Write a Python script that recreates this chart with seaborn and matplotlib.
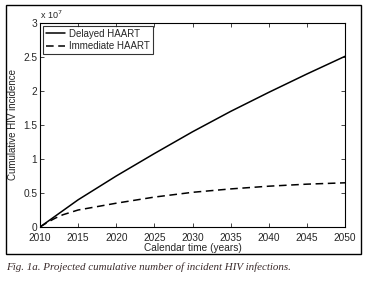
import pandas as pd
import matplotlib
matplotlib.use('Agg')
import matplotlib.pyplot as plt
import seaborn as sns
from matplotlib.patches import Rectangle

# cumulative incident HIV infections, in units of 1e7
years = [2010, 2011, 2012, 2013, 2015, 2020, 2025, 2030, 2035, 2040, 2045, 2050]
delayed = [0.0, 0.08, 0.16, 0.24, 0.40, 0.75, 1.08, 1.40, 1.70, 1.98, 2.25, 2.51]
immediate = [0.0, 0.07, 0.13, 0.18, 0.25, 0.35, 0.44, 0.51, 0.56, 0.60, 0.63, 0.65]
labels = ['Delayed HAART', 'Immediate HAART']

df = pd.concat([
    pd.DataFrame({'year': years, 'value': delayed, 'scenario': labels[0]}),
    pd.DataFrame({'year': years, 'value': immediate, 'scenario': labels[1]}),
])

sns.set_style('ticks')
plt.rcParams['font.family'] = ['Liberation Sans', 'DejaVu Sans']

fig = plt.figure(figsize=(3.69, 2.84), dpi=100)
ax = fig.add_axes([40 / 369, 57 / 284, 305 / 369, 204 / 284])

sns.lineplot(data=df, x='year', y='value', style='scenario', color='black',
             dashes={labels[0]: '', labels[1]: (5, 3)}, linewidth=1.1, ax=ax)

ax.set_xlim(2010, 2050)
ax.set_ylim(0, 3)
ax.set_xticks(range(2010, 2051, 5))
ax.set_yticks([0, 0.5, 1, 1.5, 2, 2.5, 3])
ax.set_yticklabels(['0', '0.5', '1', '1.5', '2', '2.5', '3'])
ax.tick_params(direction='in', top=True, right=True, labelsize=7.3, length=3, width=0.6, pad=2)
ax.tick_params(axis='x', pad=4.5)
for s in ax.spines.values():
    s.set_linewidth(0.8)
    s.set_color('black')
ax.set_xlabel('Calendar time (years)', fontsize=7.3, labelpad=0)
ax.set_ylabel('Cumulative HIV incidence', fontsize=7, labelpad=4)
ax.text(0.0, 1.01, 'x 10$^7$', transform=ax.transAxes, fontsize=6.5, ha='left', va='bottom')

leg = ax.legend(loc='upper left', fontsize=7, frameon=True, fancybox=False,
                handlelength=2.0, borderaxespad=0.3, borderpad=0.3, labelspacing=0.25,
                handletextpad=0.4)
leg.get_frame().set_edgecolor('black')
leg.get_frame().set_linewidth(0.8)

fig.patches.append(Rectangle((6 / 369, 30 / 284), 355 / 369, 249 / 284, transform=fig.transFigure,
                             fill=False, edgecolor='black', linewidth=1.0))
fig.text(6 / 369, 14 / 284, 'Fig. 1a. Projected cumulative number of incident HIV infections.',
         family='Liberation Serif', style='italic', fontsize=7.9, color='#3a2b2b', va='baseline')

fig.savefig('out.png', dpi=100)
